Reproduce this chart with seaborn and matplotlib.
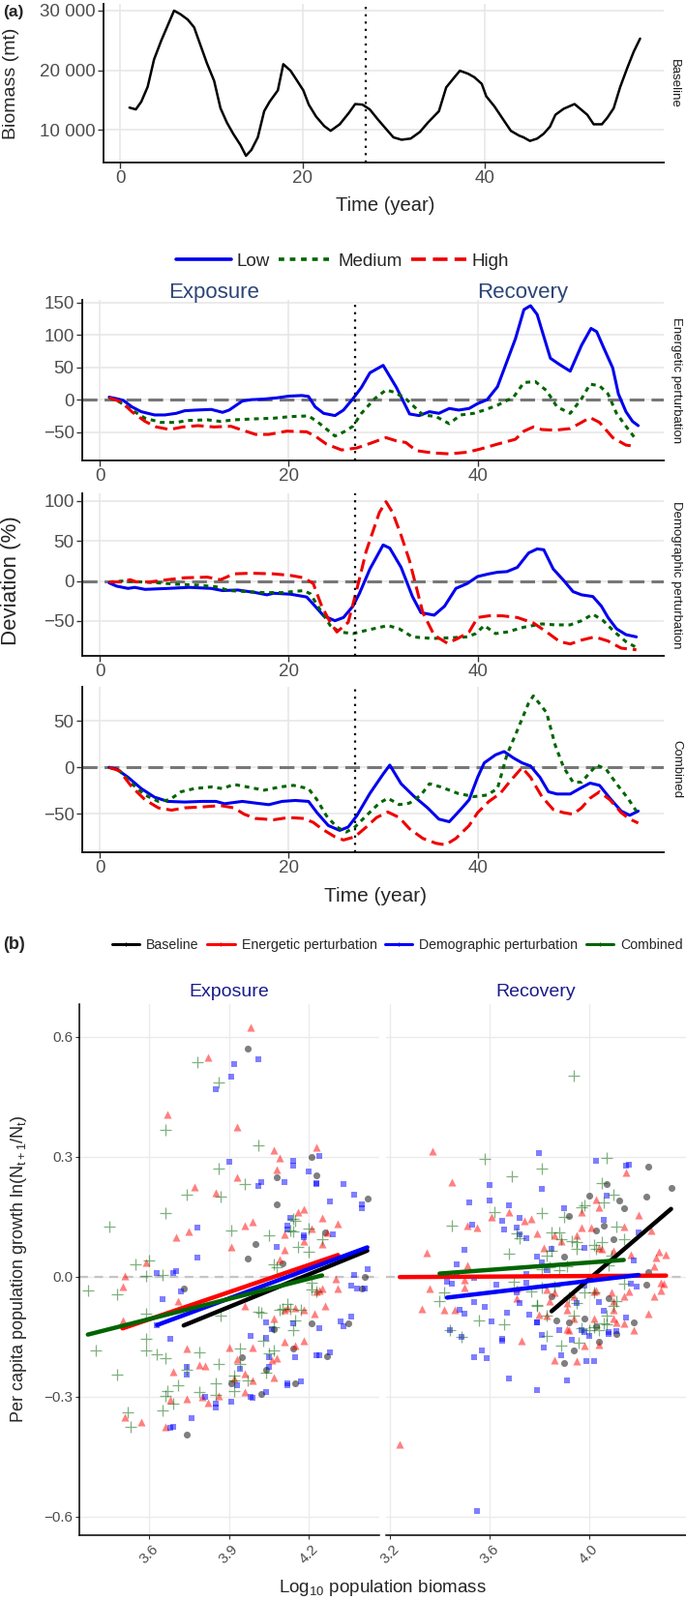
import numpy as np
import pandas as pd
import matplotlib
matplotlib.use("Agg")
import matplotlib.pyplot as plt
from matplotlib.lines import Line2D
import seaborn as sns

# ---------------- (a) data ----------------
# baseline biomass, (year, biomass in mt)
baseline_biomass = [(1.0, 13700), (1.7, 13400), (2.3, 14700), (3.0, 17200), (3.7, 21800), (4.5, 25000),
                    (5.2, 27500), (5.9, 30000), (6.6, 29400), (7.4, 28500), (8.1, 27200), (8.8, 24200),
                    (9.5, 21200), (10.3, 18200), (11.0, 13600), (11.7, 11200), (12.4, 9300), (13.2, 7400),
                    (13.8, 5600), (14.4, 6600), (15.1, 8700), (15.8, 13100), (16.4, 14700), (17.3, 16600),
                    (17.9, 21000), (18.7, 19900), (19.3, 18500), (20.1, 16600), (20.7, 14200), (21.5, 12200),
                    (22.4, 10600), (23.1, 9800), (24.1, 10900), (25.1, 12800), (25.8, 14300), (26.6, 14200),
                    (27.4, 13400), (28.3, 11700), (29.2, 10100), (30.0, 8700), (30.9, 8300), (31.9, 8500),
                    (32.9, 9600), (33.8, 11200), (35.0, 13100), (35.8, 17100), (36.7, 18800), (37.3, 19900),
                    (38.2, 19400), (38.9, 18800), (39.7, 17700), (40.2, 15600), (41.1, 13900), (41.8, 12300),
                    (42.9, 9800), (43.8, 9000), (44.3, 8700), (45.0, 8100), (45.8, 8500), (46.5, 9300),
                    (47.2, 10500), (47.8, 12500), (48.7, 13500), (49.9, 14300), (50.6, 13400), (51.3, 12500),
                    (52.0, 10900), (52.9, 10900), (53.5, 12000), (54.2, 13600), (54.9, 17100), (55.7, 20400),
                    (56.4, 23100), (57.1, 25300)]

# deviation from baseline (%), (year, deviation)
energetic_low = [(1.0, 4), (1.8, 1.5), (2.5, -1), (3.4, -11), (4.4, -18.5), (5.8, -23.5), (6.9, -23.5),
                 (8.1, -21), (9.0, -17), (10.2, -16), (11.8, -15), (13.0, -19.5), (13.7, -16), (15.1, -2),
                 (16.0, 0), (17.4, 1), (18.8, 3), (20.0, 5.5), (21.4, 6.5), (22.1, 5), (22.8, -11),
                 (23.7, -21), (24.9, -24.5), (25.8, -16), (26.8, 1.5), (27.7, 19), (28.6, 41.5), (30.0, 53),
                 (31.4, 19), (32.8, -22), (33.8, -24.5), (34.9, -18.5), (35.9, -21), (37.0, -13.5),
                 (38.0, -16), (39.1, -13.5), (40.0, -6), (41.0, 0), (42.1, 20), (44.0, 94), (44.9, 139),
                 (45.6, 145), (46.3, 131.5), (47.7, 64), (48.7, 54), (49.8, 44), (51.0, 84), (52.0, 110),
                 (52.6, 105), (53.3, 81.5), (54.3, 49), (54.9, 9), (55.7, -18.5), (56.4, -33.5), (57.0, -40)]
energetic_medium = [(1.0, 3), (2.1, -3.5), (3.4, -16), (4.8, -28.5), (6.5, -35), (8.1, -35), (9.3, -32),
                    (11.4, -31), (12.8, -33.5), (14.2, -31), (16.5, -29.5), (18.4, -28.5), (20.2, -26),
                    (22.1, -25), (23.0, -33.5), (24.9, -56), (25.8, -50), (26.8, -41), (27.7, -21), (29.1, 1.5),
                    (30.3, 15), (31.2, 11.5), (32.4, 1.5), (33.3, -11), (34.2, -23.5), (35.6, -26), (37.0, -37),
                    (38.2, -23.5), (39.6, -21), (40.7, -16), (42.1, -8.5), (43.8, 4), (44.9, 26.5), (46.1, 28),
                    (47.3, 14), (48.4, -11), (49.8, -21), (51.0, 1.5), (51.9, 24), (52.9, 21.5), (53.8, 9),
                    (54.7, -21), (55.7, -41), (56.8, -62)]
energetic_high = [(1.0, 3), (2.3, -3.5), (3.4, -18.5), (4.8, -33.5), (6.0, -42), (7.4, -46), (8.8, -42),
                  (10.4, -40), (12.1, -42), (13.9, -41), (14.9, -46), (16.5, -53.5), (17.9, -53.5), (19.8, -48.5),
                  (21.9, -49.5), (22.8, -56), (24.0, -68.5), (25.6, -77.5), (27.2, -74.5), (28.6, -67.5),
                  (30.3, -58.5), (31.4, -63.5), (32.4, -66), (33.5, -78.5), (35.2, -82), (37.0, -83.5),
                  (38.9, -81), (40.3, -76), (42.1, -68.5), (44.0, -61), (44.9, -48.5), (45.9, -42), (46.8, -46),
                  (48.2, -47), (49.8, -44.5), (51.0, -35), (51.9, -27.5), (52.9, -35), (54.3, -58.5),
                  (55.7, -70), (56.8, -72)]

demographic_low = [(1.0, -2.4), (1.8, -6.5), (3.0, -9.3), (3.7, -8), (4.8, -10.5), (7.2, -9.3), (9.5, -8),
                   (11.8, -9.3), (13.0, -12), (14.6, -11.3), (16.5, -14.5), (17.7, -17.3), (18.4, -15.3),
                   (20.2, -16.5), (21.9, -20), (22.8, -31.5), (23.7, -43.5), (24.9, -49.6), (25.8, -45.6),
                   (26.8, -31.5), (27.5, -15.3), (28.6, 15), (30.0, 45), (30.7, 41), (31.9, 17), (33.1, -19.4),
                   (34.0, -39.5), (35.4, -42.7), (36.5, -31.5), (37.7, -9.3), (38.9, -3.2), (40.0, 5.6),
                   (41.2, 8.9), (42.1, 10.9), (43.1, 11.7), (44.2, 17), (45.4, 35), (46.3, 40), (47.0, 39),
                   (48.0, 15), (49.1, 0.8), (50.1, -13.3), (51.0, -17.3), (52.2, -19.4), (53.1, -31.5),
                   (53.8, -45.6), (54.7, -59.7), (55.7, -67), (56.8, -69.8)]
demographic_medium = [(1.0, -1.2), (2.5, 0), (4.4, -1.2), (6.2, -2.4), (8.1, -4), (10.4, -5.2), (12.3, -7.3),
                      (13.7, -12), (15.6, -13.3), (17.4, -14.5), (19.3, -14.5), (21.6, -12), (22.3, -16),
                      (23.3, -35.5), (24.4, -55.6), (25.4, -63.7), (26.8, -65.7), (28.2, -61.7), (30.5, -55.6),
                      (31.7, -59.7), (33.1, -69.8), (35.2, -71.8), (37.0, -71), (38.9, -69.8), (39.8, -65.7),
                      (40.7, -55.6), (41.9, -65.7), (43.1, -63.7), (44.9, -57.7), (46.8, -53.6), (48.2, -54.8),
                      (49.8, -54.8), (51.0, -49.6), (52.2, -41.5), (53.3, -49.6), (54.5, -63.7), (55.7, -75.8),
                      (56.8, -83)]
demographic_high = [(1.0, -1.2), (2.3, -1.2), (3.2, 1.6), (3.9, -1.2), (5.3, -1.2), (7.2, 1.6), (9.0, 4),
                    (11.4, 4.8), (12.8, 1.6), (14.2, 8.9), (16.0, 9.7), (18.4, 8.9), (20.2, 6.9), (21.6, 4),
                    (22.6, -3.2), (23.5, -31.5), (24.4, -51.6), (25.1, -63.7), (26.3, -51.6), (27.2, -11.3),
                    (28.2, 37), (29.6, 85.5), (30.3, 99), (31.0, 85.5), (31.9, 57), (32.8, 25), (34.2, -39.5),
                    (35.4, -67.7), (36.8, -77.8), (37.9, -71.8), (39.1, -63.7), (40.0, -45.6), (41.2, -43.5),
                    (42.6, -43.5), (44.2, -45.6), (45.9, -52.4), (47.3, -63.7), (48.7, -75.8), (49.8, -78.6),
                    (51.0, -73.8), (52.4, -69.8), (53.8, -75), (55.2, -83.9), (56.8, -85.9)]

combined_low = [(1.0, 0), (1.8, -2), (3.0, -10.7), (4.4, -22.8), (5.8, -32), (7.2, -36.5), (9.0, -37.2),
                (10.9, -36.5), (12.3, -36.5), (13.2, -39), (15.1, -36.5), (16.5, -38.3), (17.9, -40),
                (19.3, -36.5), (20.7, -35.5), (22.1, -36.5), (23.0, -48.6), (24.2, -62.4), (25.4, -67.6),
                (26.3, -64), (27.2, -52), (28.6, -27.9), (30.0, -7.2), (30.7, 2.4), (31.9, -17.6), (33.3, -31.4),
                (34.7, -43.4), (35.9, -55.5), (37.0, -58.3), (38.2, -45.2), (39.1, -34.8), (40.0, -10.7),
                (40.7, 4.8), (41.9, 13.4), (42.8, 16.9), (43.8, 10), (44.7, 4.8), (45.6, 1.4), (46.6, -10.7),
                (47.5, -26.2), (48.4, -28.6), (49.8, -28.6), (50.8, -22.8), (51.9, -16.9), (52.9, -19.3),
                (54.0, -33.1), (55.2, -46.9), (56.1, -51.4), (57.0, -46.9)]
combined_medium = [(1.0, 0), (2.1, -3.8), (3.4, -17.6), (4.8, -29.7), (6.2, -36.5), (7.4, -34.8), (8.6, -26.2),
                   (10.0, -22.8), (11.8, -21), (13.0, -22.8), (14.2, -18.3), (15.6, -21), (17.4, -24.5),
                   (19.1, -21), (20.5, -19.3), (22.1, -22.8), (23.0, -34.8), (24.0, -52), (25.1, -64.1),
                   (26.1, -69.3), (27.0, -64.1), (28.2, -52), (29.6, -38.3), (30.5, -33.1), (31.7, -40),
                   (32.8, -38.3), (34.0, -29.7), (34.9, -17.6), (36.1, -21), (37.9, -27.9), (39.6, -31.4),
                   (41.0, -29.7), (42.1, -22.8), (43.1, 13.4), (44.2, 39.7), (45.4, 69), (45.9, 76.6),
                   (47.3, 58.6), (48.2, 24.1), (49.1, 0), (50.1, -15.9), (51.0, -15.9), (51.9, -5.5), (52.6, 2.4),
                   (53.6, -2), (54.7, -17.6), (55.9, -33.1), (56.8, -46.9)]
combined_high = [(1.0, 0), (2.1, -3.8), (3.4, -21), (4.8, -34.8), (6.2, -43.4), (7.6, -45.9), (9.0, -43.4),
                 (10.9, -42.4), (12.8, -41), (14.2, -43.4), (15.3, -50.3), (16.5, -54.8), (18.4, -56.2),
                 (20.0, -53.8), (21.6, -54.8), (22.6, -59), (23.5, -65.9), (24.9, -74.5), (25.8, -77.9),
                 (27.0, -74.5), (28.2, -64.1), (29.3, -53.8), (30.5, -47.9), (31.7, -53.8), (32.8, -65.9),
                 (34.2, -76.2), (35.6, -81.4), (36.6, -83.1), (37.7, -76.2), (39.1, -62.4), (40.0, -48.6),
                 (41.2, -36.5), (42.4, -27.9), (43.5, -14.1), (44.7, -0.3), (45.6, -10.7), (46.8, -31.4),
                 (48.0, -45.2), (49.1, -48.6), (50.1, -50.3), (51.0, -43.4), (51.9, -33.1), (52.9, -26.2),
                 (54.0, -34.8), (55.2, -48.6), (56.1, -55.5), (57.0, -59.7)]

levels = ["Low", "Medium", "High"]
level_colors = {"Low": "#0000EE", "Medium": "#006400", "High": "#EE0000"}
level_dashes = {"Low": "", "Medium": (1.6, 1.6), "High": (4.2, 2.0)}
perturbation_start = 27

# ---------------- (b) data: (log10 biomass, growth) ----------------
exp_baseline = [(3.97, 0.57), (4.08, 0.248), (4.08, 0.182), (4.21, 0.301), (4.23, 0.253), (4.00, 0.083),
                (3.97, 0.047), (4.10, 0.034), (4.26, 0.111), (3.73, -0.028), (4.42, 0.195), (4.41, 0.0),
                (4.40, -0.028), (4.21, -0.117), (4.35, -0.116), (4.14, -0.179), (3.95, -0.2), (3.91, -0.267),
                (4.04, -0.232), (4.02, -0.294), (4.15, -0.266), (4.27, -0.198), (3.74, -0.394), (4.07, -0.13)]
exp_energetic = [(3.98, 0.625), (3.82, 0.55), (3.67, 0.407), (3.93, 0.376), (4.07, 0.317), (4.23, 0.323),
                 (4.09, 0.297), (4.08, 0.268), (3.93, 0.25), (3.77, 0.224), (3.85, 0.211), (3.75, 0.114),
                 (3.70, 0.099), (3.96, 0.127), (3.99, 0.137), (3.91, 0.074), (4.16, 0.163), (4.18, 0.168),
                 (4.25, 0.148), (4.31, 0.133), (4.11, 0.106), (4.11, 0.067), (4.09, 0.044), (4.18, 0.089),
                 (4.21, 0.121), (4.25, 0.082), (4.27, 0.111), (3.59, 0.036), (3.51, 0.002), (3.50, -0.024),
                 (3.50, -0.109), (3.71, -0.06), (3.96, -0.073), (4.07, -0.103), (4.11, -0.082), (4.18, -0.083),
                 (4.31, -0.028), (4.30, -0.004), (4.23, -0.036), (4.25, -0.028), (4.15, -0.077), (4.22, -0.093),
                 (4.12, -0.077), (4.24, -0.035), (4.11, -0.163), (4.18, -0.16), (4.15, -0.173), (4.26, -0.073),
                 (3.74, -0.179), (3.90, -0.177), (3.93, -0.206), (3.99, -0.176), (4.08, -0.203), (4.06, -0.209),
                 (3.96, -0.241), (3.92, -0.253), (3.99, -0.259), (3.69, -0.236), (3.79, -0.22), (3.81, -0.222),
                 (4.07, -0.251), (3.96, -0.287), (3.86, -0.298), (3.80, -0.299), (3.82, -0.314), (3.74, -0.306),
                 (3.68, -0.307), (3.51, -0.35), (3.57, -0.363), (3.66, -0.374)]
exp_demographic = [(3.92, 0.533), (3.91, 0.501), (3.85, 0.47), (4.01, 0.544), (3.90, 0.288), (4.01, 0.228),
                   (4.02, 0.238), (4.14, 0.29), (4.14, 0.278), (4.24, 0.302), (4.20, 0.264), (4.23, 0.235),
                   (4.23, 0.232), (4.11, 0.236), (4.33, 0.232), (4.37, 0.206), (4.28, 0.188), (4.13, 0.147),
                   (4.12, 0.127), (4.12, 0.118), (4.18, 0.105), (4.18, 0.098), (4.29, 0.106), (4.08, 0.074),
                   (3.78, 0.123), (3.78, 0.048), (3.63, 0.01), (3.70, 0.015), (3.69, 0.01), (3.72, -0.036),
                   (3.65, -0.056), (4.37, 0.004), (4.36, -0.023), (3.63, -0.12), (3.68, -0.154), (3.74, -0.225),
                   (3.74, -0.244), (3.68, -0.378), (3.69, -0.376), (3.76, -0.354), (3.81, -0.3), (3.85, -0.318),
                   (3.85, -0.326), (3.91, -0.312), (3.93, -0.271), (3.94, -0.23), (3.98, -0.3), (3.99, -0.302),
                   (4.04, -0.288), (3.98, -0.148), (4.04, -0.153), (4.05, -0.202), (4.05, -0.225), (4.04, -0.115),
                   (4.14, -0.117), (4.15, -0.202), (4.12, -0.267), (4.12, -0.27), (4.17, -0.262), (4.24, -0.129),
                   (4.23, -0.195), (4.24, -0.197), (4.28, -0.19), (4.32, -0.112), (4.33, -0.124), (4.36, -0.1),
                   (4.06, -0.13), (4.42, 0.02), (4.38, -0.03), (4.41, -0.03), (4.40, 0.181), (4.40, 0.172)]
exp_combined = [(3.78, 0.536), (3.86, 0.485), (3.66, 0.368), (4.01, 0.329), (3.86, 0.27), (3.96, 0.232),
                (3.74, 0.205), (3.87, 0.2), (3.66, 0.16), (3.45, 0.125), (3.91, 0.117), (4.05, 0.103),
                (4.14, 0.145), (4.15, 0.139), (4.13, 0.117), (4.14, 0.113), (4.20, 0.121), (4.16, 0.075),
                (4.20, 0.063), (4.25, 0.095), (4.07, 0.031), (4.08, 0.024), (3.55, 0.031), (3.60, 0.04),
                (3.59, 0.002), (3.65, 0.004), (3.37, -0.035), (3.48, -0.044), (3.59, -0.093), (3.87, -0.097),
                (4.01, -0.087), (4.21, -0.031), (4.21, -0.015), (4.23, -0.036), (4.13, -0.081), (4.12, -0.068),
                (4.10, -0.081), (4.17, -0.083), (3.40, -0.184), (3.48, -0.245), (3.59, -0.155), (3.59, -0.184),
                (3.63, -0.193), (3.66, -0.203), (3.52, -0.339), (3.53, -0.374), (3.65, -0.334), (3.67, -0.286),
                (3.66, -0.298), (3.69, -0.316), (3.71, -0.27), (3.79, -0.189), (3.74, -0.232), (3.86, -0.219),
                (3.85, -0.266), (3.79, -0.288), (3.85, -0.296), (3.92, -0.248), (3.92, -0.259), (3.94, -0.179),
                (3.94, -0.219), (3.97, -0.259), (3.92, -0.286), (4.02, -0.09), (4.03, -0.16), (4.07, -0.185),
                (4.05, -0.191), (4.04, -0.239), (4.09, -0.082), (4.15, -0.108), (4.14, -0.134), (4.07, -0.125)]

rec_baseline = [(4.24, 0.276), (4.33, 0.222), (4.23, 0.2), (4.07, 0.232), (4.00, 0.203), (4.12, 0.191),
                (4.14, 0.171), (3.92, 0.152), (4.03, 0.115), (4.06, 0.129), (4.10, 0.093), (3.90, 0.05),
                (4.24, 0.012), (4.23, -0.02), (3.85, -0.048), (4.08, -0.054), (3.87, -0.11), (3.92, -0.113),
                (3.98, -0.103), (4.03, -0.123), (4.18, -0.115), (4.04, -0.163), (4.11, -0.144), (3.94, -0.183),
                (3.90, -0.216)]
rec_energetic = [(3.37, 0.315), (3.45, 0.238), (3.61, 0.151), (3.68, 0.163), (3.74, 0.139), (3.77, 0.145),
                 (3.51, 0.127), (3.55, 0.123), (3.79, 0.109), (3.97, 0.161), (4.03, 0.194), (4.04, 0.173),
                 (3.82, 0.073), (3.86, 0.105), (3.89, 0.089), (3.95, 0.105), (3.97, 0.123), (4.01, 0.123),
                 (4.04, 0.073), (4.05, 0.071), (4.10, 0.065), (4.14, 0.125), (4.15, 0.262), (4.20, 0.155),
                 (4.25, 0.117), (4.28, 0.063), (4.31, 0.055), (4.27, 0.048), (4.26, 0.026), (4.17, 0.056),
                 (3.35, 0.06), (3.51, 0.028), (3.50, -0.008), (3.50, -0.027), (3.36, -0.03), (3.33, -0.081),
                 (3.42, -0.083), (3.46, -0.083), (3.71, -0.054), (3.71, -0.028), (3.83, -0.031), (3.86, -0.04),
                 (3.91, -0.065), (3.94, -0.048), (4.02, -0.036), (4.03, -0.034), (4.09, -0.04), (4.10, -0.06),
                 (4.14, -0.048), (4.16, -0.036), (4.29, -0.015), (4.30, -0.016), (4.29, -0.034), (4.26, -0.048),
                 (4.24, -0.093), (4.10, -0.082), (4.10, -0.103), (4.02, -0.105), (3.94, -0.103), (3.91, -0.082),
                 (3.80, -0.095), (3.83, -0.098), (4.14, -0.117), (4.18, -0.133), (3.92, -0.133), (3.24, -0.418),
                 (3.73, -0.16), (3.86, -0.207), (3.95, -0.211), (3.98, -0.171), (4.04, -0.169), (4.11, -0.114),
                 (3.91, -0.131), (3.84, -0.06)]
rec_demographic = [(3.80, 0.309), (4.03, 0.289), (4.15, 0.278), (4.16, 0.281), (3.60, 0.23), (3.81, 0.221),
                   (3.52, 0.187), (3.60, 0.191), (3.68, 0.18), (3.65, 0.141), (3.66, 0.119), (3.72, 0.147),
                   (3.71, 0.123), (3.72, 0.107), (3.75, 0.097), (3.90, 0.171), (4.07, 0.202), (4.06, 0.143),
                   (4.20, 0.11), (3.53, 0.131), (3.50, 0.067), (3.47, 0.031), (3.47, 0.006), (3.85, 0.069),
                   (3.98, 0.073), (3.79, 0.05), (3.81, 0.036), (4.18, 0.042), (3.43, -0.012), (3.45, -0.018),
                   (3.54, -0.002), (3.63, -0.02), (3.71, -0.039), (3.75, -0.015), (3.75, 0.008), (3.83, 0.016),
                   (3.98, -0.023), (4.17, -0.016), (4.19, -0.024), (3.54, -0.062), (3.58, -0.074), (3.48, -0.082),
                   (3.50, -0.093), (3.67, -0.089), (3.72, -0.065), (4.04, -0.062), (4.06, -0.086), (4.15, -0.101),
                   (3.79, -0.115), (3.61, -0.111), (3.44, -0.133), (3.88, -0.133), (3.97, -0.133), (4.08, -0.137),
                   (4.11, -0.135), (3.95, -0.065), (3.54, -0.202), (3.57, -0.184), (3.59, -0.203), (3.49, -0.151),
                   (3.65, -0.155), (3.65, -0.16), (3.76, -0.095), (3.79, -0.114), (3.81, -0.145), (3.82, -0.176),
                   (3.68, -0.254), (3.79, -0.282), (3.91, -0.26), (3.89, -0.196), (3.93, -0.157), (3.99, -0.211),
                   (4.02, -0.211), (3.98, -0.137), (4.00, -0.148), (4.08, -0.143), (3.55, -0.585)]
rec_combined = [(3.94, 0.502), (3.58, 0.296), (4.07, 0.298), (3.69, 0.252), (3.81, 0.27), (4.05, 0.235),
                (4.10, 0.205), (4.06, 0.185), (3.98, 0.179), (3.97, 0.173), (3.62, 0.163), (3.81, 0.16),
                (3.90, 0.149), (3.45, 0.127), (3.71, 0.109), (3.72, 0.097), (3.68, 0.058), (3.85, 0.111),
                (3.88, 0.111), (3.89, 0.093), (3.93, 0.089), (3.95, 0.087), (3.85, 0.065), (3.83, 0.052),
                (3.95, 0.069), (4.02, 0.079), (4.03, 0.069), (4.05, 0.087), (4.11, 0.125), (4.14, 0.093),
                (4.09, 0.052), (4.08, 0.028), (3.81, 0.02), (3.84, 0.024), (3.88, 0.016), (3.91, 0.026),
                (3.70, -0.012), (3.77, -0.036), (3.81, -0.026), (3.86, -0.024), (3.92, -0.052), (3.95, -0.065),
                (3.98, -0.039), (4.02, -0.04), (4.11, -0.06), (4.10, -0.073), (4.14, -0.016), (3.42, -0.039),
                (3.40, -0.06), (3.56, -0.109), (3.66, -0.119), (3.79, -0.071), (3.83, -0.098), (3.94, -0.098),
                (3.97, -0.129), (4.07, -0.119), (4.04, -0.133), (3.44, -0.133), (3.49, -0.151), (3.83, -0.147),
                (3.89, -0.173), (3.96, -0.165), (4.00, -0.133), (4.02, -0.125), (4.06, -0.117), (4.07, -0.097),
                (3.79, -0.072)]

scenarios = ["Baseline", "Energetic perturbation", "Demographic perturbation", "Combined"]
scen_colors = {"Baseline": "#000000", "Energetic perturbation": "#FF0000",
               "Demographic perturbation": "#0000FF", "Combined": "#006400"}
scen_markers = {"Baseline": "o", "Energetic perturbation": "^",
                "Demographic perturbation": "s", "Combined": "+"}
scen_sizes = {"Baseline": 26, "Energetic perturbation": 34, "Demographic perturbation": 24, "Combined": 70}

# ---------------- figure ----------------
sns.set_theme(style="white")
plt.rcParams['font.family'] = ['Liberation Sans', 'DejaVu Sans']

W, H = 709, 1654
fig = plt.figure(figsize=(W / 100, H / 100), dpi=100)


def box(l, t, r, b):
    return [l / W, 1 - b / H, (r - l) / W, (b - t) / H]


def style_a(ax):
    ax.grid(True, color='#E6E6E6', lw=1.1)
    ax.set_axisbelow(True)
    for s in ['top', 'right']:
        ax.spines[s].set_visible(False)
    for s in ['left', 'bottom']:
        ax.spines[s].set_color('#1A1A1A')
        ax.spines[s].set_linewidth(1.4)
    ax.tick_params(axis='both', length=4, width=1, color='#333333', labelsize=13.5,
                   labelcolor='#4D4D4D', pad=2, left=True, bottom=True)
    ax.set_xlim(-1.85, 59.7)
    ax.set_xticks([0, 20, 40])
    ax.set_xlabel('')
    ax.set_ylabel('')


def to_frame(pairs, label, key):
    arr = np.array(pairs, dtype=float)
    return pd.DataFrame({'x': arr[:, 0], 'y': arr[:, 1], key: label})


# top baseline panel
ax0 = fig.add_axes(box(107, 4, 686, 168))
top_df = to_frame(baseline_biomass, "Baseline", "scenario")
sns.lineplot(data=top_df, x='x', y='y', color='black', lw=1.8, ax=ax0, sort=False, estimator=None)
ax0.axvline(perturbation_start, color='black', lw=1.6, dashes=(1, 2.4))
style_a(ax0)
ax0.set_ylim(4472, 31138)
ax0.set_yticks([10000, 20000, 30000], ['10 000', '20 000', '30 000'])
fig.text(697 / W, 1 - 86 / H, "Baseline", rotation=-90, ha='center', va='center', fontsize=9.5, color='#1A1A1A')
fig.text(398 / W, 1 - 212 / H, "Time (year)", ha='center', va='center', fontsize=14.5)
fig.text(12 / W, 1 - 86 / H, "Biomass (mt)", rotation=90, ha='center', va='center', fontsize=14)
fig.text(3 / W, 1 - 13 / H, "(a)", ha='left', va='center', fontsize=12.5, fontweight='bold')

# deviation panels
panels = [
    ("Energetic perturbation", [energetic_low, energetic_medium, energetic_high], (310, 476), (-93.7, 154),
     [-50, 0, 50, 100, 150]),
    ("Demographic perturbation", [demographic_low, demographic_medium, demographic_high], (510, 678), (-93.5, 109.4),
     [-50, 0, 50, 100]),
    ("Combined", [combined_low, combined_medium, combined_high], (710, 881), (-91, 86.3), [-50, 0, 50]),
]
for i, (name, series, (top, bottom), ylim, yticks) in enumerate(panels):
    ax = fig.add_axes(box(85, top, 686, bottom))
    df = pd.concat([to_frame(s, lev, 'level') for s, lev in zip(series, levels)], ignore_index=True)
    ax.axhline(0, color='#777777', lw=2.2, dashes=(5, 2.4), zorder=1)
    sns.lineplot(data=df, x='x', y='y', hue='level', style='level', hue_order=levels, style_order=levels,
                 palette=level_colors, dashes=level_dashes, lw=2.2, legend=False, ax=ax,
                 sort=False, estimator=None, zorder=2)
    ax.axvline(perturbation_start, color='black', lw=1.6, dashes=(1, 2.4), zorder=3)
    style_a(ax)
    ax.set_ylim(*ylim)
    ax.set_yticks(yticks)
    fig.text(699 / W, 1 - (top + bottom) / 2 / H, name, rotation=-90, ha='center', va='center',
             fontsize=9.5, color='#1A1A1A')
    if i == 0:
        ax.text(12.1, 150, "Exposure", ha='center', va='bottom', fontsize=16, color='#2B4576', clip_on=False)
        ax.text(44.8, 150, "Recovery", ha='center', va='bottom', fontsize=16, color='#2B4576', clip_on=False)

fig.text(12 / W, 1 - 600 / H, "Deviation (%)", rotation=90, ha='center', va='center', fontsize=16)
fig.text(388 / W, 1 - 927 / H, "Time (year)", ha='center', va='center', fontsize=15)

level_handles = [Line2D([], [], color=level_colors[l], lw=2.6, dashes=level_dashes[l] if level_dashes[l] else (None, None))
                 for l in levels]
fig.legend(level_handles, levels, loc='center', bbox_to_anchor=(354 / W, 1 - 270 / H), ncol=3, frameon=False,
           fontsize=13.5, handlelength=3.0, columnspacing=0.5, handletextpad=0.3)

# ---------------- (b) scatter panels ----------------
fig.text(3 / W, 1 - 977 / H, "(b)", ha='left', va='center', fontsize=13, fontweight='bold')
exposure_sets = [exp_baseline, exp_energetic, exp_demographic, exp_combined]
recovery_sets = [rec_baseline, rec_energetic, rec_demographic, rec_combined]
axL = fig.add_axes(box(82, 1038, 392, 1587))
axR = fig.add_axes(box(399, 1038, 709, 1587))
for ax, sets, xlim, xticks, title in [(axL, exposure_sets, (3.338, 4.465), [3.6, 3.9, 4.2], "Exposure"),
                                      (axR, recovery_sets, (3.185, 4.39), [3.2, 3.6, 4.0], "Recovery")]:
    ax.axhline(0, color='#C4C4C4', lw=1.6, dashes=(4, 3), zorder=1)
    for scen, pts in zip(scenarios, sets):
        d = to_frame(pts, scen, 'scenario')
        if scen == "Combined":
            sns.scatterplot(data=d, x='x', y='y', marker='+', s=scen_sizes[scen], color=scen_colors[scen],
                            alpha=0.5, linewidth=0.9, ax=ax, zorder=2)
        else:
            sns.scatterplot(data=d, x='x', y='y', marker=scen_markers[scen], s=scen_sizes[scen],
                            color=scen_colors[scen], alpha=0.5, linewidth=0, ax=ax, zorder=2)
    for scen, pts in zip(scenarios, sets):
        d = to_frame(pts, scen, 'scenario')
        sns.regplot(data=d, x='x', y='y', scatter=False, ci=None, truncate=True, color=scen_colors[scen],
                    line_kws={'linewidth': 3.2, 'zorder': 4}, ax=ax)
    ax.set_xlim(*xlim)
    ax.set_ylim(-0.646, 0.682)
    ax.set_xticks(xticks, [f"{v:.1f}" for v in xticks])
    ax.set_yticks([-0.6, -0.3, 0.0, 0.3, 0.6])
    ax.grid(True, color='#EBEBEB', lw=1.0)
    ax.set_axisbelow(True)
    for s in ['top', 'right']:
        ax.spines[s].set_visible(False)
    ax.spines['bottom'].set_color('black')
    ax.spines['bottom'].set_linewidth(1.1)
    ax.spines['left'].set_color('black')
    ax.spines['left'].set_linewidth(1.1)
    ax.tick_params(axis='both', length=3, width=0.8, color='#333333', labelsize=11,
                   labelcolor='#4D4D4D', pad=2, left=True, bottom=True)
    for lab in ax.get_xticklabels():
        lab.set_rotation(45)
        lab.set_ha('center')
    ax.set_xlabel('')
    ax.set_ylabel('')
    ax.set_title(title, fontsize=14, color='#1A1A8C', pad=6)

axL.set_yticklabels(['\u22120.6', '\u22120.3', '0.0', '0.3', '0.6'])
axR.spines['left'].set_visible(False)
axR.tick_params(axis='y', left=False, labelleft=False)

fig.text(20 / W, 1 - 1312 / H, r'Per capita population growth ln(N$_{\mathregular{t+1}}$/N$_{\mathregular{t}}$)',
         rotation=90, ha='center', va='center', fontsize=13)
fig.text(395 / W, 1 - 1641 / H, r'Log$_{\mathregular{10}}$ population biomass', ha='center', va='center',
         fontsize=13.5)

scen_handles = [Line2D([], [], color=scen_colors[s], lw=2.2, marker='|', markersize=3,
                       markeredgewidth=0.8) for s in scenarios]
fig.legend(scen_handles, scenarios, loc='center right', bbox_to_anchor=(706 / W, 1 - 977 / H), ncol=4,
           frameon=False, fontsize=10.2, handlelength=2.0, columnspacing=0.6, handletextpad=0.5, borderaxespad=0,
           borderpad=0)

fig.savefig("out.png", dpi=100, facecolor='white')
